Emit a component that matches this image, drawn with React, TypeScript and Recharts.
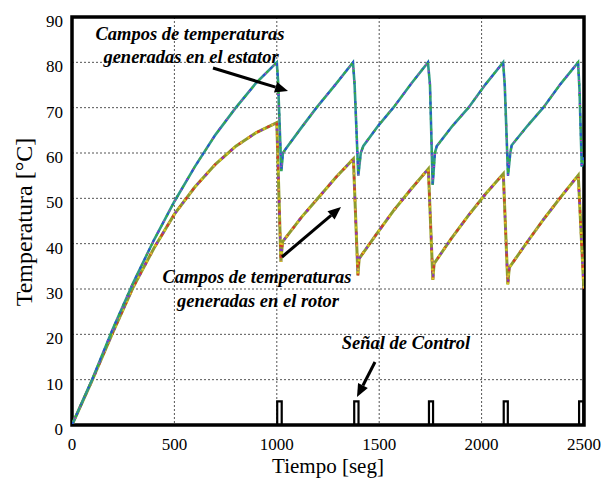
import React from 'react';
import { LineChart, Line, XAxis, YAxis, CartesianGrid, ReferenceArea } from 'recharts';

// stator temperature trace (time s, temperature °C)
const statorT = [
  0, 100, 200, 300, 400, 500, 600, 700, 800, 900, 1000,
  1006, 1022, 1030, 1045, 1120, 1194, 1290, 1372,
  1380, 1398, 1410, 1422, 1495, 1569, 1655, 1738,
  1748, 1761, 1772, 1781, 1858, 1936, 2020, 2105,
  2113, 2129, 2140, 2147, 2224, 2301, 2385, 2471,
  2478, 2489, 2500,
];
const statorV = [
  0, 10.2, 21.3, 31.5, 40.8, 49.3, 57, 64, 70, 75.5, 80,
  76, 56, 60, 61, 65.6, 70, 75.3, 80,
  75, 55, 60, 61.5, 66, 70, 75.2, 80,
  75, 53, 60, 61.5, 66, 70, 75.2, 80,
  75, 55, 60, 61.7, 66, 70, 75.2, 80,
  74, 57, 59,
];

// rotor temperature trace
const rotorT = [
  0, 100, 200, 300, 400, 500, 600, 700, 800, 900, 1000,
  1020, 1028, 1120, 1210, 1290, 1374,
  1396, 1402, 1485, 1570, 1655, 1740,
  1762, 1768, 1850, 1935, 2020, 2106,
  2128, 2135, 2220, 2305, 2390, 2472,
  2497, 2500,
];
const rotorV = [
  0, 10, 20.5, 30.5, 39, 46.5, 52.5, 57.5, 61.5, 64.5, 66.7,
  36, 40.4, 45.8, 50.5, 54.7, 58.7,
  33, 36.7, 42, 47.3, 52, 56.5,
  32, 35.6, 41, 46.2, 51, 55.4,
  31, 34.7, 40.2, 45.5, 50.5, 55.1,
  32, 30,
];

// control signal pulses
const ctrlT = [0, 1002, 1002, 1024, 1024, 1378, 1378, 1399, 1399, 1743, 1743, 1763, 1763, 2108, 2108, 2128, 2128, 2476, 2476, 2497, 2497, 2500];
const ctrlV = [0, 0, 5.2, 5.2, 0, 0, 5.2, 5.2, 0, 0, 5.2, 5.2, 0, 0, 5.2, 5.2, 0, 0, 5.2, 5.2, 0, 0];

const xTicks = [0, 500, 1000, 1500, 2000, 2500];
const yTicks = [0, 10, 20, 30, 40, 50, 60, 70, 80, 90];

// annotation texts: [text, centre x, baseline y]
const notes: [string, number, number][] = [
  ['Campos de temperaturas', 190, 40],
  ['generadas en el estator', 191, 63],
  ['Campos de temperaturas', 257, 283],
  ['generadas en el rotor', 258, 307],
  ['Señal de Control', 406, 349],
];

const zip = (ts: number[], vs: number[]) => ts.map((t, i) => ({ t, v: vs[i] }));
const stator = zip(statorT, statorV);
const rotor = zip(rotorT, rotorV);
const ctrl = zip(ctrlT, ctrlV);

const FONT = 'Liberation Serif';

const XTick = ({ x, y, payload }: any) => (
  <text x={x} y={y + 17} textAnchor="middle" fontSize={17} fontFamily={FONT} fill="#000">
    {payload.value}
  </text>
);

const YTick = ({ x, y, payload }: any) => (
  <text x={x} y={y + 10} textAnchor="end" fontSize={17} fontFamily={FONT} fill="#000">
    {payload.value}
  </text>
);

const Arrow = ({ x1, y1, x2, y2 }: { x1: number; y1: number; x2: number; y2: number }) => {
  const a = Math.atan2(y2 - y1, x2 - x1);
  const len = 13;
  const w = 5.5;
  const bx = x2 - len * Math.cos(a);
  const by = y2 - len * Math.sin(a);
  const px = -Math.sin(a) * w;
  const py = Math.cos(a) * w;
  return (
    <g>
      <line x1={x1} y1={y1} x2={bx} y2={by} stroke="#000" strokeWidth={3} />
      <polygon points={`${x2},${y2} ${bx + px},${by + py} ${bx - px},${by - py}`} fill="#000" />
    </g>
  );
};

const rainbow = (data: any[], base: string, extras: [string, string, number][], width: number, key: string) => [
  <Line key={key + 'b'} data={data} dataKey="v" type="linear" stroke={base} strokeWidth={width} dot={false} isAnimationActive={false} />,
  ...extras.map(([c, dash, off], i) => (
    <Line
      key={key + i}
      data={data}
      dataKey="v"
      type="linear"
      stroke={c}
      strokeWidth={width - 0.6}
      strokeDasharray={dash}
      strokeDashoffset={off}
      dot={false}
      isAnimationActive={false}
    />
  )),
];

const label = (size: number): React.CSSProperties => ({
  position: 'absolute',
  fontFamily: FONT,
  fontSize: size,
  lineHeight: `${size}px`,
  height: size,
  whiteSpace: 'nowrap',
  textAlign: 'center',
  color: '#000',
  zIndex: 2,
  pointerEvents: 'none',
});

export default function App() {
  return (
    <div style={{ position: 'relative', width: 602, height: 482, fontFamily: FONT }}>
      <style>{'body{margin:0}'}</style>
      {/* html labels first so the serif faces get loaded */}
      <div style={{ ...label(21), left: 228, width: 200, top: 456 }}>Tiempo [seg]</div>
      <div style={{ ...label(24), left: 24 - 150, width: 300, top: 222 - 12, transform: 'rotate(-90deg)' }}>
        Temperatura [°C]
      </div>
      {notes.map(([txt, cx, by], i) => (
        <div
          key={i}
          style={{ ...label(18.5), left: cx - 150, width: 300, top: by - 15.5, fontWeight: 700, fontStyle: 'italic' }}
        >
          {txt}
        </div>
      ))}
      <LineChart width={602} height={482} margin={{ top: 17, right: 18, bottom: 0, left: 0 }}>
        <CartesianGrid stroke="#555" strokeDasharray="2 2" strokeWidth={1} />
        <XAxis
          dataKey="t"
          type="number"
          domain={[0, 2500]}
          ticks={xTicks}
          height={57}
          axisLine={false}
          tickLine={false}
          tick={<XTick />}
          allowDataOverflow
        />
        <YAxis
          type="number"
          domain={[0, 90]}
          ticks={yTicks}
          width={72}
          axisLine={false}
          tickLine={false}
          tickSize={0}
          tickMargin={9}
          tick={<YTick />}
          allowDataOverflow
        />
        {rainbow(rotor, '#8e9b2c', [['#d23a2a', '3 8', 0], ['#8a34c8', '2 10', 4], ['#d8c81e', '2 7', 1]], 3, 'r')}
        {rainbow(stator, '#2e9888', [['#2a52d4', '3 7', 0], ['#c43ac4', '1 11', 5], ['#38b038', '2 9', 2]], 2.6, 's')}
        <Line data={ctrl} dataKey="v" type="linear" stroke="#000" strokeWidth={2.2} dot={false} isAnimationActive={false} />
        <ReferenceArea x1={0} x2={2500} y1={0} y2={90} fill="none" stroke="#000" strokeWidth={3.5} ifOverflow="visible" />
      </LineChart>
      <svg width={602} height={482} style={{ position: 'absolute', left: 0, top: 0, pointerEvents: 'none' }}>
        <Arrow x1={213} y1={68} x2={288} y2={91} />
        <Arrow x1={282} y1={257} x2={341} y2={207} />
        <Arrow x1={375} y1={362} x2={357} y2={397} />
      </svg>
    </div>
  );
}
